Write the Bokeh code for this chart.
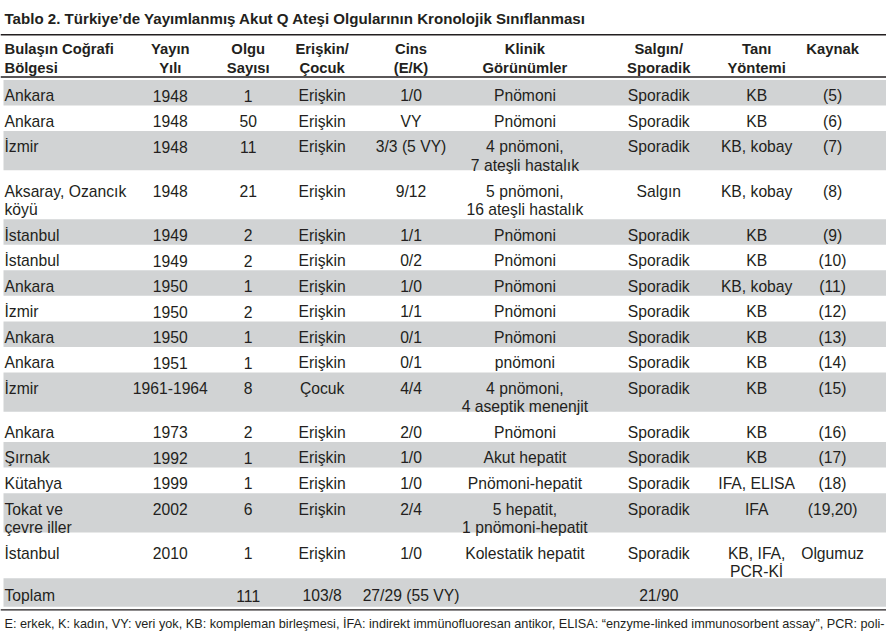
from bokeh.plotting import figure
from bokeh.models import Range1d, ColumnDataSource
from bokeh.core.properties import value
from bokeh.embed import file_html
from bokeh.resources import INLINE

# ---------------- data ----------------
title = "Tablo 2. Türkiye’de Yayımlanmış Akut Q Ateşi Olgularının Kronolojik Sınıflanması"
headers = ["Bulaşın Coğrafi\nBölgesi", "Yayın\nYılı", "Olgu\nSayısı", "Erişkin/\nÇocuk",
           "Cins\n(E/K)", "Klinik\nGörünümler", "Salgın/\nSporadik", "Tanı\nYöntemi", "Kaynak"]
regions = ["Ankara", "Ankara", "İzmir", "Aksaray, Ozancık\nköyü", "İstanbul", "İstanbul",
           "Ankara", "İzmir", "Ankara", "Ankara", "İzmir", "Ankara", "Şırnak", "Kütahya",
           "Tokat ve\nçevre iller", "İstanbul"]
years = ["1948", "1948", "1948", "1948", "1949", "1949", "1950", "1950", "1950", "1951",
         "1961-1964", "1973", "1992", "1999", "2002", "2010"]
cases = [1, 50, 11, 21, 2, 2, 1, 2, 1, 1, 8, 2, 1, 1, 6, 1]
age_group = ["Erişkin", "Erişkin", "Erişkin", "Erişkin", "Erişkin", "Erişkin", "Erişkin",
             "Erişkin", "Erişkin", "Erişkin", "Çocuk", "Erişkin", "Erişkin", "Erişkin",
             "Erişkin", "Erişkin"]
sex = ["1/0", "VY", "3/3 (5 VY)", "9/12", "1/1", "0/2", "1/0", "1/1", "0/1", "0/1", "4/4",
       "2/0", "1/0", "1/0", "2/4", "1/0"]
clinical = ["Pnömoni", "Pnömoni", "4 pnömoni,\n7 ateşli hastalık", "5 pnömoni,\n16 ateşli hastalık",
            "Pnömoni", "Pnömoni", "Pnömoni", "Pnömoni", "Pnömoni", "pnömoni",
            "4 pnömoni,\n4 aseptik menenjit", "Pnömoni", "Akut hepatit", "Pnömoni-hepatit",
            "5 hepatit,\n1 pnömoni-hepatit", "Kolestatik hepatit"]
outbreak = ["Sporadik", "Sporadik", "Sporadik", "Salgın", "Sporadik", "Sporadik", "Sporadik",
            "Sporadik", "Sporadik", "Sporadik", "Sporadik", "Sporadik", "Sporadik", "Sporadik",
            "Sporadik", "Sporadik"]
diagnosis = ["KB", "KB", "KB, kobay", "KB, kobay", "KB", "KB", "KB, kobay", "KB", "KB", "KB",
             "KB", "KB", "KB", "IFA, ELISA", "IFA", "KB, IFA,\nPCR-Kİ"]
sources = ["(5)", "(6)", "(7)", "(8)", "(9)", "(10)", "(11)", "(12)", "(13)", "(14)", "(15)",
           "(16)", "(17)", "(18)", "(19,20)", "Olgumuz"]
totals = ["Toplam", "", "111", "103/8", "27/29 (55 VY)", "", "21/90", "", ""]
footnote = ("E: erkek, K: kadın, VY: veri yok, KB: kompleman birleşmesi, İFA: indirekt "
            "immünofluoresan antikor, ELISA: “enzyme-linked immunosorbent assay”, PCR: poli-")

# ---------------- layout / style ----------------
FONT = "Liberation Sans"
INK = "#231f20"
BAND = "#d1d3d4"
BODY_PX, HEAD_PX, TITLE_PX, NOTE_PX = 15.7, 14.8, 15.1, 12.7
CAP = 0.358                       # half cap-height / font size
SHIFT = -2.5                      # optical baseline correction
col_x = [4, 170, 248, 322, 411, 525, 659, 757, 833]
col_align = ["left"] + ["center"] * 8
FIRST_CENTER, PITCH, LINE_STEP = 92.5, 25.6, 18.7
TITLE_C, HEAD_C, HEAD_STEP = 15.5, 45.5, 19.5

p = figure(width=886, height=632, x_range=Range1d(0, 887), y_range=Range1d(634, 0),
           output_backend="svg", toolbar_location=None, min_border=0, title=None,
           x_axis_type=None, y_axis_type=None)
p.outline_line_color = None
p.background_fill_color = "white"
p.border_fill_color = "white"

columns = [regions, years, [str(c) for c in cases], age_group, sex, clinical, outbreak,
           diagnosis, sources]
n_rows = len(regions)
n_lines = [max(len(col[i].split("\n")) for col in columns) for i in range(n_rows)]

first_c = []
c = FIRST_CENTER
for n in n_lines:
    first_c.append(c)
    c += PITCH + LINE_STEP * (n - 1)
total_c = c

# gray bands on alternate rows, then the total row
band_top, band_bot = [], []
for i in range(0, n_rows, 2):
    last = first_c[i] + LINE_STEP * (n_lines[i] - 1)
    band_top.append(first_c[i] - 12.8)
    band_bot.append(max(first_c[i] + 12.8, last + 8.0))
band_top.append(total_c - 16.0)
band_bot.append(total_c + 12.5)
p.quad(left=3, right=887, top=band_top, bottom=band_bot, fill_color=BAND, line_color=None)

# horizontal rules
p.segment(x0=[0, 0], x1=[887, 887], y0=[34.3, 76.8], y1=[34.3, 76.8], line_color=INK, line_width=1.5)
p.segment(x0=[0], x1=[887], y0=[611.3], y1=[611.3], line_color=INK, line_width=1.2)

def add_text(xs, ys, texts, align, style, px):
    src = ColumnDataSource(dict(x=xs, y=ys, t=texts))
    p.text(x="x", y="y", text="t", source=src, text_align=align, text_baseline="alphabetic",
           text_font=value(FONT), text_font_style=style, text_font_size=f"{px}px",
           text_color=INK)

# title
add_text([4], [TITLE_C + CAP * TITLE_PX + SHIFT], [title], "left", "bold", TITLE_PX)

# header
for j, h in enumerate(headers):
    lines = h.split("\n")
    add_text([col_x[j]] * len(lines),
             [HEAD_C + HEAD_STEP * k + CAP * HEAD_PX + SHIFT for k in range(len(lines))],
             lines, col_align[j], "bold", HEAD_PX)

# body cells
for j, col in enumerate(columns):
    xs, ys, ts = [], [], []
    for i, cell in enumerate(col):
        for k, line in enumerate(cell.split("\n")):
            xs.append(col_x[j])
            ys.append(first_c[i] + LINE_STEP * k + CAP * BODY_PX + SHIFT)
            ts.append(line)
    add_text(xs, ys, ts, col_align[j], "normal", BODY_PX)

# total row
ty = total_c - 1.5 + CAP * BODY_PX + SHIFT
add_text([col_x[0]], [ty], [totals[0]], "left", "normal", BODY_PX)
rest = [(col_x[j], t) for j, t in enumerate(totals) if t and j > 0]
add_text([r[0] for r in rest], [ty] * len(rest), [r[1] for r in rest], "center", "normal", BODY_PX)

# footnote
add_text([4], [625.2], [footnote], "left", "normal", NOTE_PX)

open("out.html", "w").write(file_html(p, INLINE))
